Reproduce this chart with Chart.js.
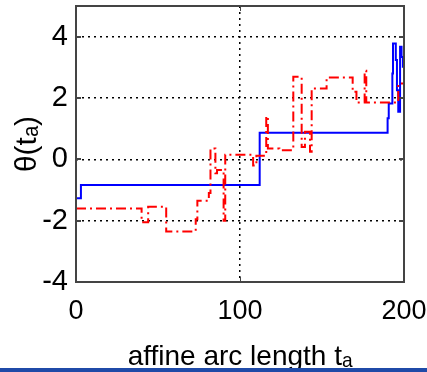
<!DOCTYPE html>
<html>
<head>
<meta charset="utf-8">
<script src="https://cdn.jsdelivr.net/npm/chart.js@4/dist/chart.umd.min.js"></script>
<style>
  html, body { margin: 0; padding: 0; background: #fff; }
  #wrap { position: relative; width: 427px; height: 372px; overflow: hidden; }
  #bar { position: absolute; left: 0; right: 0; bottom: 0; height: 4px; background: #1f4aa8; }
</style>
</head>
<body>
<div id="wrap">
  <canvas id="thetaChart" width="427" height="372"></canvas>
  <div id="bar"></div>
</div>
<script>
// step points: [arc length where the value changes, new theta value]
var blueX = [0, 3, 112, 190, 190.7, 192.9, 193.3, 195, 195.7, 196.5, 197.6, 198.5, 199.3, 200];
var blueY = [-1.27, -0.84, 0.87, 1.34, 1.82, 2.8, 3.78, 3.24, 2.25, 1.55, 3.67, 3.34, 3.02, 3.3];

var redX = [0, 40, 44, 55, 73, 74, 81, 82, 85, 86, 90, 91, 108, 110, 116, 117, 124, 132.5, 137.6, 139.6, 142.7, 143.7, 152.8, 168.7, 171, 176, 177, 196.5, 200];
var redY = [-1.6, -2.05, -1.55, -2.35, -1.95, -1.35, -1.1, 0.35, -0.45, -0.35, -2.0, 0.15, -0.2, 0.12, 1.4, 0.35, 0.3, 2.69, 0.4, 0.9, 0.25, 2.31, 2.67, 2.2, 1.85, 2.89, 1.85, 2.47, 2.47];

var yTicks = [-4, -2, 0, 2, 4];
var xTicks = [0, 100, 200];

function pts(xs, ys) {
	return xs.map(function(x, i){ return {x: x, y: ys[i]}; });
}

// box round the plot plus inward tick marks, matlab style
var boxPlugin = {
	id: 'box',
	afterDatasetsDraw: function(chart) {
		var ctx = chart.ctx, a = chart.chartArea;
		var xs = chart.scales.x, ys = chart.scales.y;
		ctx.save();
		ctx.strokeStyle = '#444';
		ctx.lineWidth = 1;
		xTicks.forEach(function(v){
			var px = Math.round(xs.getPixelForValue(v)) + 0.5;
			ctx.beginPath();
			ctx.moveTo(px, a.bottom); ctx.lineTo(px, a.bottom - 5);
			ctx.moveTo(px, a.top); ctx.lineTo(px, a.top + 5);
			ctx.stroke();
		});
		ctx.lineWidth = 2;
		yTicks.forEach(function(v){
			var py = Math.round(ys.getPixelForValue(v));
			ctx.beginPath();
			ctx.moveTo(a.left, py); ctx.lineTo(a.left + 5, py);
			ctx.moveTo(a.right, py); ctx.lineTo(a.right - 5, py);
			ctx.stroke();
		});
		ctx.lineWidth = 2;
		ctx.strokeRect(a.left, a.top, a.right - a.left, a.bottom - a.top);
		ctx.restore();
	}
};

var ctx = document.getElementById('thetaChart').getContext('2d');
var plot = new Chart(ctx, {
	type: 'scatter',
	data: {
		datasets: [{
			label: 'red',
			data: pts(redX, redY),
			showLine: true,
			stepped: true,
			borderColor: '#ff0000',
			borderWidth: 2,
			borderDash: [10, 4, 2, 4],
			pointRadius: 0,
			fill: false
		}, {
			label: 'blue',
			data: pts(blueX, blueY),
			showLine: true,
			stepped: true,
			borderColor: '#0000ff',
			borderWidth: 2,
			pointRadius: 0,
			fill: false
		}]
	},
	options: {
		responsive: false,
		animation: false,
		layout: { padding: { top: 6, right: 23, left: 0, bottom: 0 } },
		plugins: { legend: { display: false }, tooltip: { enabled: false } },
		scales: {
			x: {
				type: 'linear',
				min: 0, max: 200,
				afterBuildTicks: function(s){ s.ticks = xTicks.map(function(v){ return {value: v}; }); },
				afterFit: function(s){ s.height = 90; s.paddingLeft = 0; s.paddingRight = 0; },
				grid: { color: '#000', lineWidth: 1.5, drawTicks: false },
				border: { display: false, dash: [2, 4] },
				ticks: { color: '#000', font: { family: 'Liberation Sans, Arial', size: 27 }, padding: 13, maxRotation: 0 },
				title: { display: true, text: 'affine arc length tₐ', color: '#000', font: { family: 'Liberation Sans, Arial', size: 28 }, padding: { top: 0, bottom: -2 } }
			},
			y: {
				type: 'linear',
				min: -4, max: 5,
				afterBuildTicks: function(s){ s.ticks = yTicks.map(function(v){ return {value: v}; }); },
				afterFit: function(s){ s.width = 76; s.paddingTop = 0; s.paddingBottom = 0; },
				grid: { color: '#000', lineWidth: 1.5, drawTicks: false },
				border: { display: false, dash: [2, 4] },
				ticks: { color: '#000', font: { family: 'Liberation Sans, Arial', size: 29 }, padding: 8 },
				title: { display: true, text: 'θ(tₐ)', color: '#000', font: { family: 'Liberation Sans, Arial', size: 30 }, padding: { top: 10, bottom: 0 } }
			}
		}
	},
	plugins: [boxPlugin]
});
</script>
</body>
</html>
